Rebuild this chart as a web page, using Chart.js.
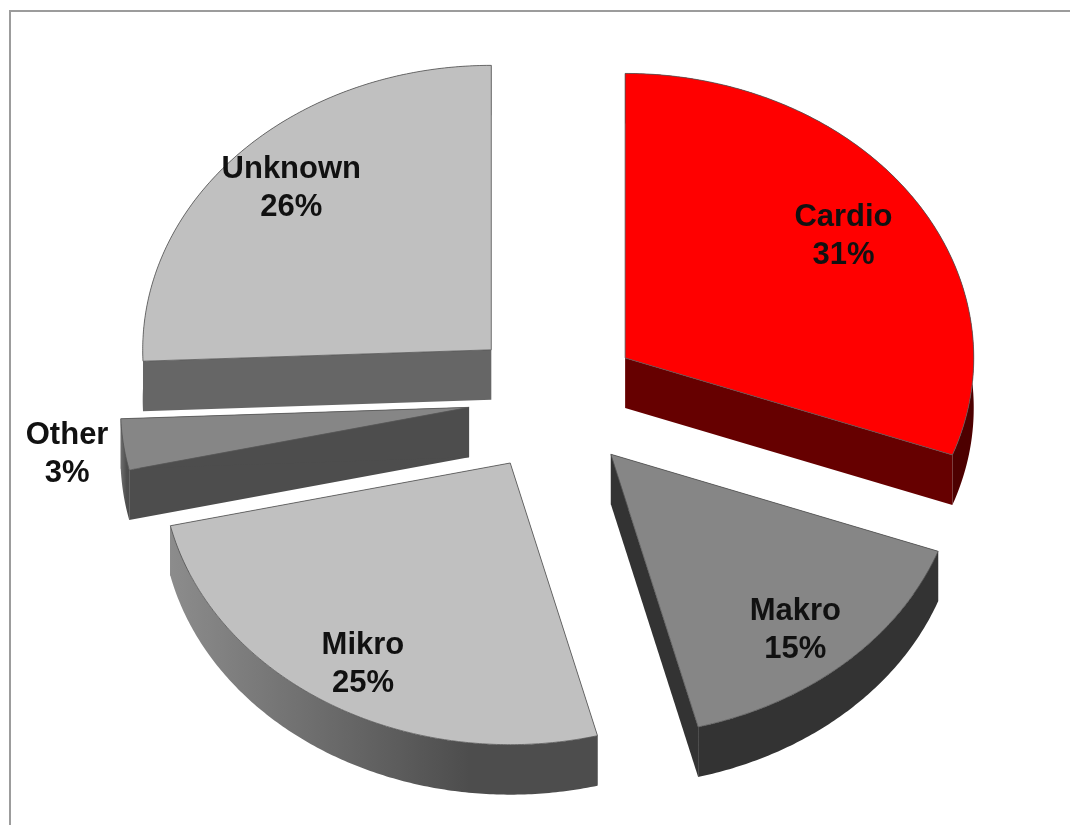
<!DOCTYPE html>
<html>
<head>
<meta charset="utf-8">
<title>Pie</title>
<script src="https://cdn.jsdelivr.net/npm/chart.js@4"></script>
<style>
    html, body { margin: 0; padding: 0; background: #fff; overflow: hidden; }
    #wrap { position: relative; width: 1070px; height: 825px; }
    #frame { position: absolute; left: 9px; top: 10px; right: -5px; bottom: -5px; border: 2px solid #9c9c9c; }
    canvas { position: absolute; left: 0; top: 0; }
</style>
</head>
<body>
<div id="wrap">
    <div id="frame"></div>
    <canvas id="pie_chart" width="1070" height="825"></canvas>
</div>
<script>
const categories = ["Cardio", "Makro", "Mikro", "Other", "Unknown"];
const shares = [31, 15, 25, 3, 26];
const top_colors = ["#ff0000", "#868686", "#c0c0c0", "#868686", "#c0c0c0"];
const face_colors = ["#660000", "#333333", "#4d4d4d", "#4d4d4d", "#666666"];
const rim_left_colors = ["#4d0000", "#333333", "#8c8c8c", "#6e6e6e", "#666666"];
const rim_right_colors = ["#4d0000", "#333333", "#4d4d4d", "#4d4d4d", "#666666"];
const label_reach = [0.76, 0.82, 0.83, 1.165, 0.81];
const label_turn = [-0.3, 1.2, 0, 0.8, 1.7];

const SQUASH_BACK = 0.816;
const SQUASH_FRONT = 0.808;
const DEPTH = 50;
const EXPLODE_X = 86;
const EXPLODE_UP = 66;
const EXPLODE_DOWN = 79;
const PERSPECTIVE = 1.8 * Math.PI / 180;

// the tilt pulls the rim towards the horizontal a little near the sides
const perspective = (angle) => {
    const wide = Math.sin(2 * angle);
    return angle - PERSPECTIVE * Math.cos(angle) ** 2 * wide / (Math.abs(wide) + 0.05);
};

const slice_apex = (arc) => {
    const mid = (arc.startAngle + arc.endAngle) / 2;
    const lift = Math.sin(mid) * (Math.sin(mid) > 0 ? EXPLODE_DOWN : EXPLODE_UP);
    return { x: arc.x + Math.cos(mid) * EXPLODE_X, y: arc.y + lift };
};

const rim_point = (arc, angle) => {
    const apex = slice_apex(arc);
    const bent = perspective(angle);
    const squash = Math.sin(bent) < 0 ? SQUASH_BACK : SQUASH_FRONT;
    return {
        x: apex.x + Math.cos(bent) * arc.outerRadius,
        y: apex.y + Math.sin(bent) * arc.outerRadius * squash
    };
};

const rim_points = (arc) => {
    const points = [];
    for (let a = arc.startAngle; a < arc.endAngle; a += 0.01) {
        points.push(rim_point(arc, a));
    }
    points.push(rim_point(arc, arc.endAngle));
    return points;
};

const draw_face = (ctx, arc, angle, color) => {
    const apex = slice_apex(arc);
    const edge = rim_point(arc, angle);
    ctx.fillStyle = color;
    ctx.beginPath();
    ctx.moveTo(apex.x, apex.y);
    ctx.lineTo(edge.x, edge.y);
    ctx.lineTo(edge.x, edge.y + DEPTH);
    ctx.lineTo(apex.x, apex.y + DEPTH);
    ctx.closePath();
    ctx.fill();
};

const draw_rim = (ctx, arc, index) => {
    const upper = rim_points(arc);
    const xs = upper.map((p) => p.x);
    const left = Math.min(...xs);
    const right = Math.max(...xs);
    const fill = ctx.createLinearGradient(left, 0, left + (right - left) * 0.7, 0);
    fill.addColorStop(0, rim_left_colors[index]);
    fill.addColorStop(1, rim_right_colors[index]);
    ctx.fillStyle = fill;

    ctx.beginPath();
    upper.forEach((p, i) => i ? ctx.lineTo(p.x, p.y) : ctx.moveTo(p.x, p.y));
    upper.slice().reverse().forEach((p) => ctx.lineTo(p.x, p.y + DEPTH));
    ctx.closePath();
    ctx.fill();
};

const draw_top = (ctx, arc) => {
    const apex = slice_apex(arc);
    ctx.beginPath();
    ctx.moveTo(apex.x, apex.y);
    rim_points(arc).forEach((p) => ctx.lineTo(p.x, p.y));
    ctx.closePath();
    ctx.fillStyle = arc.options.backgroundColor;
    ctx.fill();
    ctx.strokeStyle = arc.options.borderColor;
    ctx.lineWidth = arc.options.borderWidth;
    ctx.stroke();
};

const draw_label = (ctx, arc, index) => {
    const mid = (arc.startAngle + arc.endAngle) / 2 + label_turn[index] * Math.PI / 180;
    const apex = slice_apex(arc);
    const reach = arc.outerRadius * label_reach[index];
    const x = apex.x + Math.cos(mid) * reach;
    const y = apex.y + Math.sin(mid) * reach * SQUASH_FRONT;
    ctx.fillStyle = "#111111";
    ctx.font = "bold 31px 'Liberation Sans', Arial, sans-serif";
    ctx.textAlign = "center";
    ctx.textBaseline = "middle";
    ctx.fillText(categories[index], x, y - 19);
    ctx.fillText(shares[index] + "%", x, y + 19);
};

const tilted_pie = {
    id: "tilted_pie",
    beforeDatasetDraw(chart) {
        const ctx = chart.ctx;
        const arcs = chart.getDatasetMeta(0).data;
        arcs.forEach((arc, i) => {
            draw_face(ctx, arc, arc.startAngle, face_colors[i]);
            draw_face(ctx, arc, arc.endAngle, face_colors[i]);
            draw_rim(ctx, arc, i);
            draw_top(ctx, arc);
        });
        arcs.forEach((arc, i) => draw_label(ctx, arc, i));
        return false;
    }
};

const config = {
    type: "pie",
    data: {
        labels: categories,
        datasets: [{
            data: shares,
            backgroundColor: top_colors,
            borderColor: "#555555",
            borderWidth: 0.8
        }]
    },
    plugins: [tilted_pie],
    options: {
        responsive: false,
        animation: false,
        events: [],
        layout: { padding: { left: 205, right: 167, top: 46, bottom: 81 } },
        plugins: {
            legend: { display: false },
            tooltip: { enabled: false }
        }
    }
};

var pie_chart = new Chart(document.getElementById("pie_chart"), config);
</script>
</body>
</html>
